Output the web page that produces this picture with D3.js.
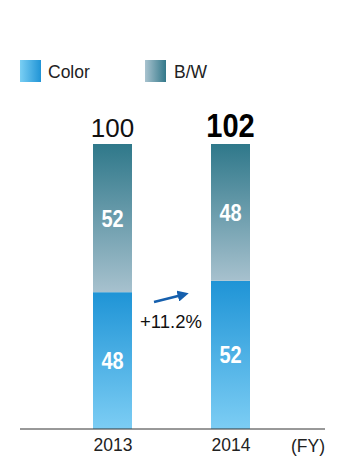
<!DOCTYPE html>
<html><head><meta charset="utf-8">
<script src="https://cdn.jsdelivr.net/npm/d3@7"></script>
<style>html,body{margin:0;padding:0;background:#fff;}svg{display:block;}</style>
</head><body>
<script>
const years = ["2013", "2014"];
const totals = [100, 102];
const colorShare = [48, 52];
const bwShare = [52, 48];
const seriesNames = ["Color", "B/W"];
const growthLabel = "+11.2%";

const W = 339, H = 459;
const svg = d3.select("body").append("svg").attr("width", W).attr("height", H);
const defs = svg.append("defs");
const FONT = "Liberation Sans, Arial, Helvetica, sans-serif";

function grad(id, x2, y2, stops) {
  const g = defs.append("linearGradient").attr("id", id)
    .attr("x1", 0).attr("y1", 0).attr("x2", x2).attr("y2", y2);
  stops.forEach(s => g.append("stop").attr("offset", s[0]).attr("stop-color", s[1]));
}
grad("gColorV", 0, 1, [[0, "#1f94d6"], [1, "#7ccdf4"]]);
grad("gBwV", 0, 1, [[0, "#2f788a"], [1, "#a7c1ce"]]);
grad("gColorH", 1, 0, [[0, "#7acff4"], [1, "#2094d6"]]);
grad("gBwH", 1, 0, [[0, "#a9c3cf"], [1, "#33788a"]]);

const baseY = 429, topY = 144;
const x = d3.scalePoint().domain(years).range([112.5, 230.5]);
const y = d3.scaleLinear().domain([0, 100]).range([baseY, topY]);

const data = years.map((yr, i) => ({yr, total: totals[i], color: colorShare[i], bw: bwShare[i]}));

// legend
const leg = svg.append("g");
[["gColorH", 20, 48], ["gBwH", 145, 174]].forEach((d, i) => {
  leg.append("rect").attr("x", d[1]).attr("y", 60).attr("width", 21).attr("height", 22).attr("fill", `url(#${d[0]})`);
  leg.append("text").attr("x", d[2]).attr("y", 77.5).text(seriesNames[i])
    .attr("font-family", FONT).attr("font-size", 17.5).attr("fill", "#222");
});

function condensed(sel, cx, cy, txt, size, fill, sx) {
  sel.append("text").attr("transform", `translate(${cx},${cy}) scale(${sx},1)`)
    .attr("text-anchor", "middle").attr("font-family", FONT).attr("font-weight", "bold")
    .attr("font-size", size).attr("fill", fill).text(txt);
}

const bw = 39;
const g = svg.append("g");
data.forEach(d => {
  const cx = x(d.yr);
  const x0 = cx - bw / 2;
  g.append("rect").attr("x", x0).attr("y", y(d.color)).attr("width", bw)
    .attr("height", y(0) - y(d.color)).attr("fill", "url(#gColorV)");
  g.append("rect").attr("x", x0).attr("y", y(d.color + d.bw)).attr("width", bw)
    .attr("height", y(d.color) - y(d.color + d.bw)).attr("fill", "url(#gBwV)");
  condensed(g, cx, (y(0) + y(d.color)) / 2 + 8.5, d.color, 23.5, "#fff", 0.85);
  condensed(g, cx, (y(d.color) + y(100)) / 2 + 8.5, d.bw, 23.5, "#fff", 0.85);
});

// totals
g.append("text").attr("x", x(years[0])).attr("y", 137).attr("text-anchor", "middle")
  .attr("font-family", FONT).attr("font-size", 26).attr("fill", "#111").text(totals[0]);
condensed(g, x(years[1]), 137, totals[1], 33, "#000", 0.88);

// arrow
defs.append("marker").attr("id", "ah").attr("viewBox", "0 0 10 10").attr("refX", 2).attr("refY", 5)
  .attr("markerWidth", 4.5).attr("markerHeight", 4.5).attr("orient", "auto")
  .append("path").attr("d", "M0,0L10,5L0,10Z").attr("fill", "#155fad");
svg.append("line").attr("x1", 154).attr("y1", 302).attr("x2", 180).attr("y2", 295.5)
  .attr("stroke", "#155fad").attr("stroke-width", 2.5).attr("marker-end", "url(#ah)");
svg.append("text").attr("x", 171).attr("y", 328).attr("text-anchor", "middle")
  .attr("font-family", FONT).attr("font-size", 18.5).attr("fill", "#111").text(growthLabel);

// axis
const ax = svg.append("g").attr("transform", `translate(0,${baseY})`)
  .call(d3.axisBottom(x).tickSize(0).tickPadding(10));
ax.select(".domain").remove();
ax.append("line").attr("x1", 20).attr("x2", 325).attr("stroke", "#333").attr("stroke-width", 1);
ax.selectAll(".tick text").attr("font-family", FONT).attr("font-size", 17.5).attr("fill", "#222");
svg.append("text").attr("x", 325).attr("y", 452).attr("text-anchor", "end")
  .attr("font-family", FONT).attr("font-size", 17.5).attr("fill", "#222").text("(FY)");
</script>
</body></html>
